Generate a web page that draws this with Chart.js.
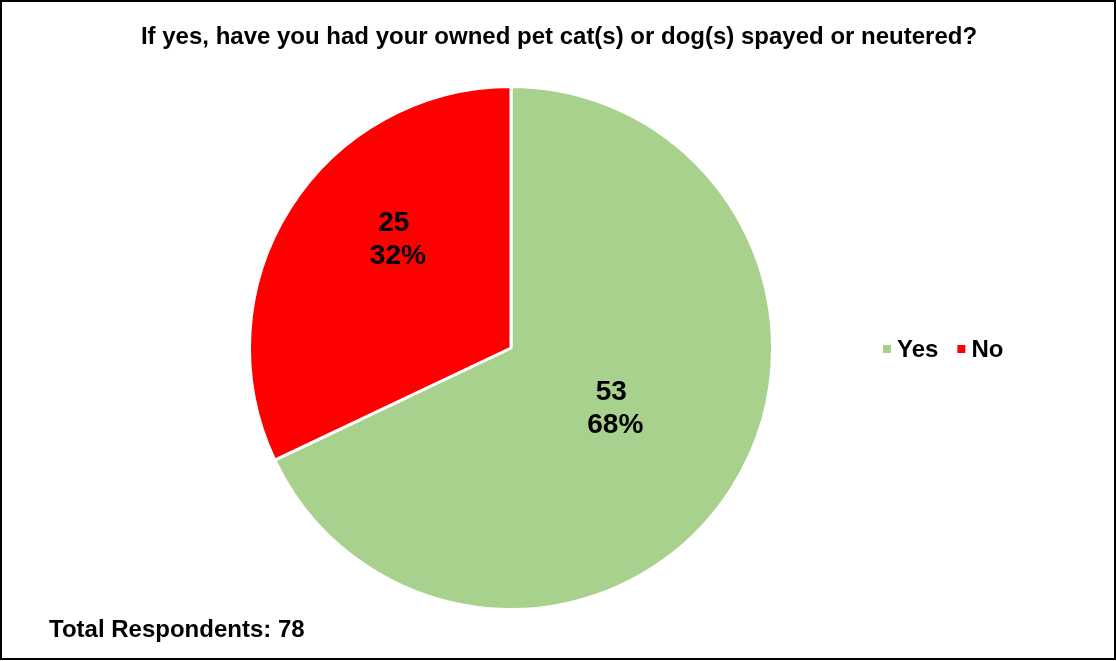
<!DOCTYPE html>
<html>
<head>
<meta charset="utf-8">
<script src="https://cdn.jsdelivr.net/npm/chart.js@4/dist/chart.umd.min.js"></script>
<style>
  html, body { margin: 0; padding: 0; background: #fff; }
  #wrap { width: 1116px; height: 661px; }
</style>
</head>
<body>
<div id="wrap"><canvas id="spayChart" width="1116" height="661"></canvas></div>
<script>
const answers = ['Yes', 'No'];
const counts = [53, 25];
const sliceColors = ['#A9D18E', '#FF0000'];
const chartTitle = 'If yes, have you had your owned pet cat(s) or dog(s) spayed or neutered?';
// where each value label sits: fraction along the slice, fraction of the radius
const labelSpots = [{ t: 0.49, r: 0.46 }, { t: 0.60, r: 0.60 }];

const FONT = '"Liberation Sans", Arial, sans-serif';
const total = counts.reduce((a, b) => a + b, 0);

// title, value + percent labels inside the slices, legend row and footer note
const pieExtras = {
    id: 'pieExtras',
    afterDatasetsDraw(chart) {
        const ctx = chart.ctx;
        const arcs = chart.getDatasetMeta(0).data;
        ctx.save();
        ctx.fillStyle = '#000';

        ctx.font = 'bold 24px ' + FONT;
        ctx.textAlign = 'center';
        ctx.textBaseline = 'alphabetic';
        ctx.fillText(chartTitle, chart.width / 2 + 1, 44);

        ctx.textBaseline = 'middle';
        ctx.font = 'bold 28px ' + FONT;
        arcs.forEach((arc, i) => {
            const p = arc.getProps(['x', 'y', 'startAngle', 'endAngle', 'outerRadius'], true);
            const spot = labelSpots[i];
            const a = p.startAngle + spot.t * (p.endAngle - p.startAngle);
            const cx = p.x + Math.cos(a) * p.outerRadius * spot.r;
            const cy = p.y + Math.sin(a) * p.outerRadius * spot.r;
            const pct = Math.round(counts[i] / total * 100) + '%';
            ctx.fillText(String(counts[i]), cx - 4, cy - 16);
            ctx.fillText(pct, cx, cy + 17);
        });

        // legend, one row to the right of the pie
        ctx.font = 'bold 24px ' + FONT;
        ctx.textAlign = 'left';
        let x = 883;
        const y = 349;
        answers.forEach((name, i) => {
            ctx.fillStyle = sliceColors[i];
            ctx.fillRect(x, y - 4, 8, 8);
            ctx.fillStyle = '#000';
            ctx.fillText(name, x + 14, y + 1);
            x += 14 + ctx.measureText(name).width + 19;
        });

        ctx.textBaseline = 'alphabetic';
        ctx.fillText('Total Respondents: ' + total, 49, 637);

        // outer frame
        ctx.strokeStyle = '#000';
        ctx.lineWidth = 2;
        ctx.strokeRect(1, 1, chart.width - 2, chart.height - 3);
        ctx.restore();
    }
};

const spayCanvas = document.getElementById('spayChart');
const spayChart = new Chart(spayCanvas, {
    type: 'pie',
    data: {
        labels: answers,
        datasets: [{
            data: counts,
            backgroundColor: sliceColors,
            borderColor: '#ffffff',
            borderWidth: 3
        }]
    },
    options: {
        responsive: false,
        animation: false,
        layout: {
            padding: { left: 248, right: 342, top: 85, bottom: 50 }
        },
        plugins: {
            legend: { display: false },
            tooltip: { enabled: false },
            title: { display: false }
        }
    },
    plugins: [pieExtras]
});
</script>
</body>
</html>
